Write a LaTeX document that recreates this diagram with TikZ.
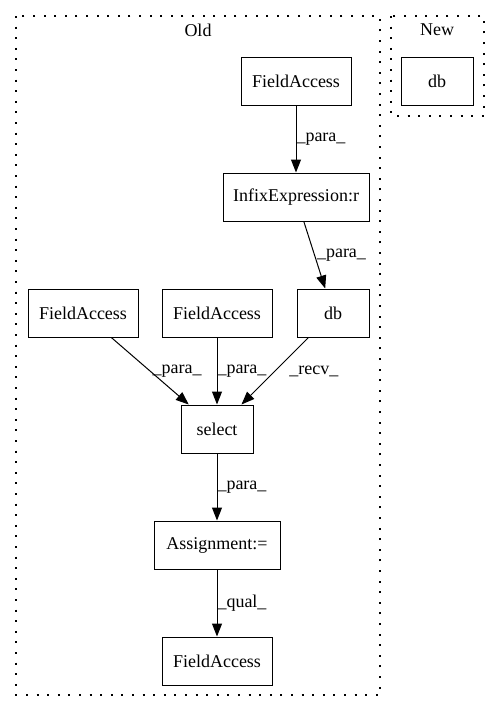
\documentclass[tikz,border=0pt]{standalone}
\usepackage{fontspec}
\setmainfont{Liberation Serif}
\usetikzlibrary{positioning, arrows.meta}

\begin{document}
\begin{tikzpicture}[
    x=1pt, y=-1pt,
    font=\fontsize{18}{21}\selectfont,
    box/.style={rectangle, draw=black, line width=1pt, minimum height=48pt, align=center, inner sep=2pt},
    cluster/.style={draw=black, line width=1.3pt, dash pattern=on 2pt off 8.6pt},
    arrow/.style={-{Triangle[length=13pt, width=10pt]}, line width=1pt},
    edgelabel/.style={midway, anchor=west, inner sep=0pt}
]
\useasboundingbox (0,0) rectangle (500,712);

% --- Clusters ---
\draw[cluster] (16,16) rectangle (380,695);
\draw[cluster] (391,16) rectangle (484,116);
\node (oldlabel) at (198,30) {Old};
\node (newlabel) at (437,30) {New};

% --- Nodes (Old) ---
\node[box, minimum width=110pt] (fieldtop) at (296,81) {FieldAccess};
\node[box, minimum width=146pt] (infix) at (296,197) {InfixExpression:r};
\node[box, minimum width=72pt] (dbold) at (333,313) {db};
\node[box, minimum width=110pt] (fieldleft) at (83,313) {FieldAccess};
\node[box, minimum width=110pt] (fieldmid) at (217,313) {FieldAccess};
\node[box, minimum width=72pt] (select) at (217,429) {select};
\node[box, minimum width=126pt] (assign) at (217,545) {Assignment:=};
\node[box, minimum width=110pt] (fieldbot) at (217,661) {FieldAccess};

% --- Nodes (New) ---
\node[box, minimum width=72pt] (dbnew) at (437,81) {db};

% --- Edges ---
\draw[arrow] (fieldtop) -- (infix) node[edgelabel] {\_para\_};
\draw[arrow] (infix) -- (dbold) node[edgelabel, xshift=2pt] {\_para\_};
\draw[arrow] (fieldleft) -- (select) node[edgelabel, xshift=2pt] {\_para\_};
\draw[arrow] (fieldmid) -- (select) node[edgelabel] {\_para\_};
\draw[arrow] (dbold) -- (select) node[edgelabel, xshift=14pt] {\_recv\_};
\draw[arrow] (select) -- (assign) node[edgelabel] {\_para\_};
\draw[arrow] (assign) -- (fieldbot) node[edgelabel] {\_qual\_};

\end{tikzpicture}
\end{document}
